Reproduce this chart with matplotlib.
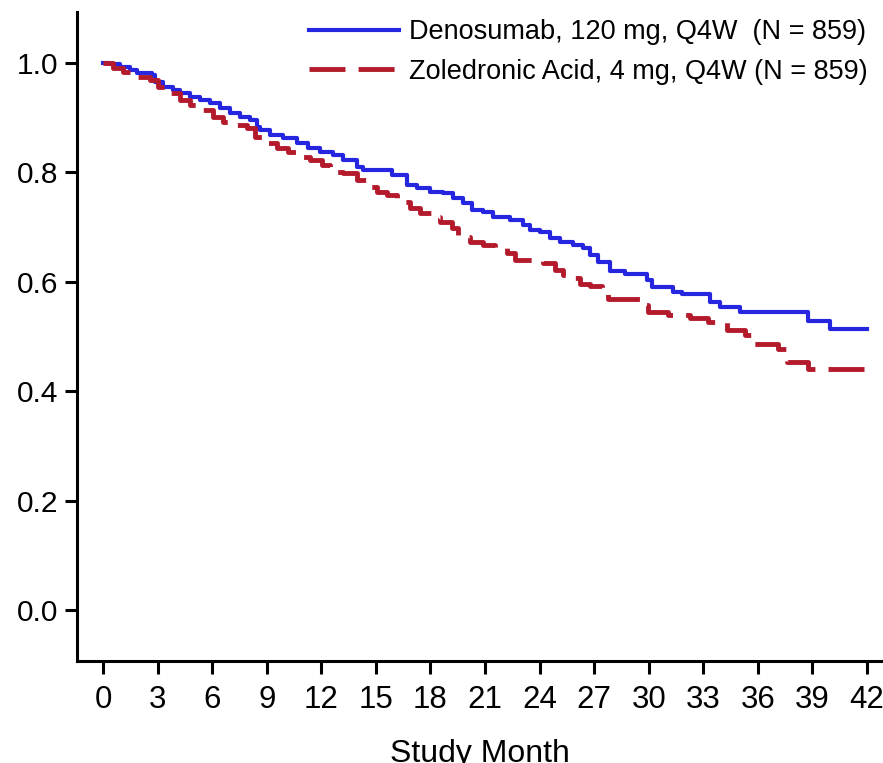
import matplotlib
matplotlib.use("Agg")
import matplotlib.pyplot as plt

# ---- data (Kaplan-Meier steps) ----
deno_months = [0.00, 0.38, 0.93, 1.48, 1.87, 2.69, 2.86, 3.30, 3.85, 4.23, 4.78, 5.33,
               5.88, 6.43, 6.98, 7.53, 8.08, 8.47, 8.63, 9.18, 9.90, 10.67, 11.27, 11.93,
               12.64, 13.19, 13.96, 14.29, 15.90, 16.71, 17.26, 17.98, 18.69, 19.24,
               19.79, 20.29, 20.89, 21.44, 22.37, 23.09, 23.47, 24.02, 24.57, 25.12,
               25.84, 26.39, 26.77, 27.21, 27.87, 28.70, 29.91, 30.18, 31.34, 31.83,
               33.37, 33.92, 35.02, 38.76, 39.97, 42.00]
deno_surv = [1.000, 0.998, 0.993, 0.987, 0.982, 0.978, 0.965, 0.956, 0.951, 0.945, 0.938,
             0.932, 0.927, 0.918, 0.909, 0.901, 0.896, 0.883, 0.878, 0.868, 0.863, 0.854,
             0.845, 0.837, 0.832, 0.823, 0.810, 0.804, 0.795, 0.777, 0.771, 0.764, 0.762,
             0.753, 0.744, 0.731, 0.727, 0.718, 0.713, 0.704, 0.695, 0.691, 0.680, 0.673,
             0.667, 0.662, 0.649, 0.636, 0.620, 0.614, 0.603, 0.590, 0.581, 0.578, 0.563,
             0.554, 0.545, 0.528, 0.514, 0.514]

zol_months = [0.00, 0.55, 1.10, 1.92, 2.58, 3.02, 3.68, 4.23, 4.78, 5.33, 6.05, 6.60,
              7.15, 7.92, 8.36, 8.80, 9.57, 10.17, 10.83, 11.38, 12.04, 12.48, 13.19,
              13.96, 14.51, 15.06, 15.61, 16.16, 16.88, 17.43, 18.09, 18.53, 19.19,
              19.52, 20.18, 20.89, 21.55, 22.21, 22.65, 23.64, 24.19, 24.85, 25.29,
              25.84, 26.22, 26.77, 27.43, 27.76, 29.52, 29.96, 31.06, 32.27, 33.26,
              34.30, 35.29, 35.68, 37.11, 37.60, 38.76, 42.00]
zol_surv = [1.000, 0.991, 0.984, 0.974, 0.969, 0.956, 0.945, 0.932, 0.923, 0.914, 0.901,
            0.892, 0.887, 0.881, 0.865, 0.854, 0.845, 0.837, 0.828, 0.823, 0.814, 0.801,
            0.799, 0.786, 0.773, 0.764, 0.759, 0.746, 0.735, 0.726, 0.718, 0.709, 0.698,
            0.682, 0.673, 0.667, 0.662, 0.653, 0.640, 0.638, 0.634, 0.622, 0.612, 0.607,
            0.596, 0.592, 0.589, 0.569, 0.558, 0.545, 0.539, 0.534, 0.527, 0.512, 0.503,
            0.486, 0.477, 0.453, 0.441, 0.441]

x_ticks = list(range(0, 43, 3))
y_ticks = [0.0, 0.2, 0.4, 0.6, 0.8, 1.0]
y_tick_labels = ["0.0", "0.2", "0.4", "0.6", "0.8", "1.0"]
label_deno = "Denosumab, 120 mg, Q4W  (N = 859)"
label_zol = "Zoledronic Acid, 4 mg, Q4W (N = 859)"
x_label = "Study Month"

BLUE = "#2626e0"
RED = "#b31a2c"

plt.rcParams["font.family"] = ["Liberation Sans", "DejaVu Sans"]

fig = plt.figure(figsize=(8.83, 7.63), dpi=100)
ax = fig.add_axes([0.0872, 0.1337, 0.9128, 0.8506])

ax.step(deno_months, deno_surv, where="post", color=BLUE, lw=3.0,
        label=label_deno, zorder=3)
ax.step(zol_months, zol_surv, where="post", color=RED, lw=3.5,
        dashes=(7.4, 2.7), dash_capstyle="butt", label=label_zol, zorder=4)

ax.set_xlim(-1.43, 42.88)
ax.set_ylim(-0.093, 1.093)

for s in ["top", "right"]:
    ax.spines[s].set_visible(False)
for s in ["left", "bottom"]:
    ax.spines[s].set_linewidth(2.2)
    ax.spines[s].set_color("black")

ax.set_xticks(x_ticks)
ax.set_xticklabels([str(t) for t in x_ticks])
ax.set_yticks(y_ticks)
ax.set_yticklabels(y_tick_labels)
ax.tick_params(axis="x", direction="out", length=9.5, width=2.2, pad=8,
               labelsize=22.5)
ax.tick_params(axis="y", direction="out", length=8.5, width=2.2, pad=5,
               labelsize=21.5)

ax.set_xlabel(x_label, fontsize=23, labelpad=17)

leg = fig.legend(loc="upper right", bbox_to_anchor=(0.983, 0.975),
                 frameon=False, fontsize=19.5, handlelength=3.3,
                 handletextpad=0.4, labelspacing=0.5, borderpad=0,
                 borderaxespad=0)

fig.savefig("out.png", dpi=100)
